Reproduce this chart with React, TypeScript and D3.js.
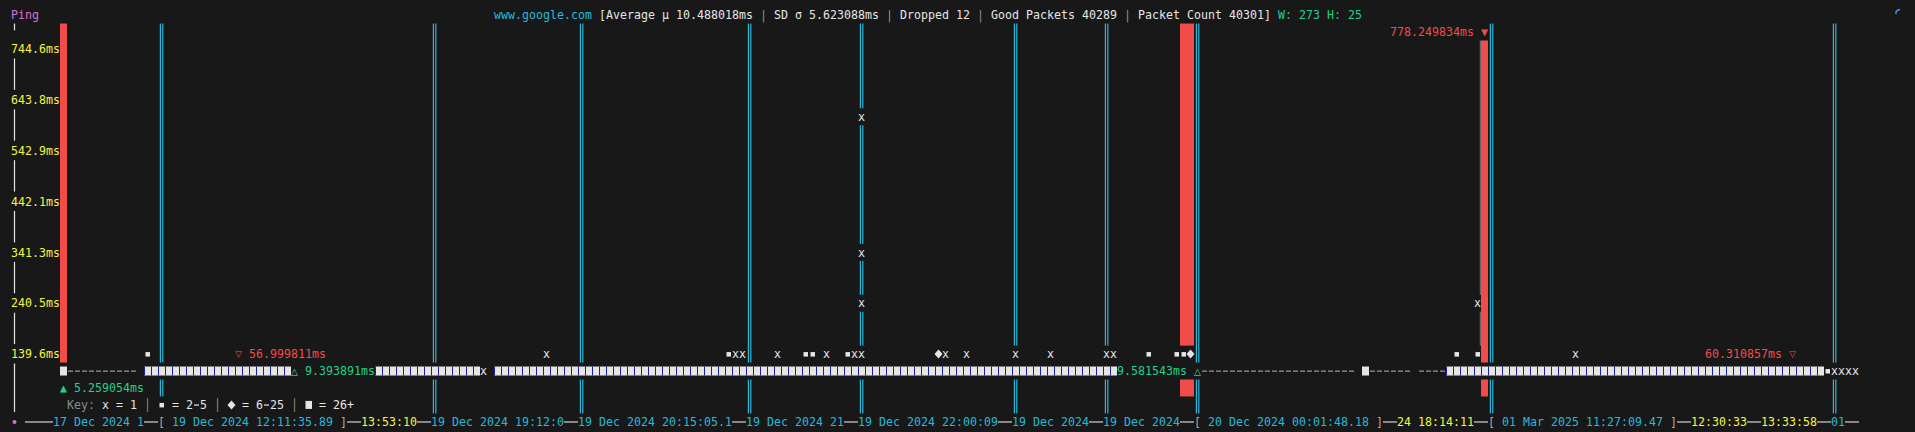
import React from 'react';
import * as d3 from 'd3';

// terminal grid
const COLS = 273;
const ROWS = 25;
const CW = 7;
const RH = 16.95;
const X0 = 4;
const Y0 = 6.6;

const BG = '#181818';
const WHITE = '#e5e5e5';
const CYAN = '#29b8db';
const RED = '#f14c4c';
const GREEN = '#23d18b';
const YELLOW = '#f5f543';
const MAGENTA = '#d670d6';
const GREY = '#8c8c8c';
const SEP = '#9a8f7c';

// y axis
const yTickValues = [744.6, 643.8, 542.9, 442.1, 341.3, 240.5, 139.6];
const yTickLabels = ['744.6ms', '643.8ms', '542.9ms', '442.1ms', '341.3ms', '240.5ms', '139.6ms'];

// columns where the time axis jumps (gaps in the capture)
const breakCols = [22, 61, 82, 106, 122, 144, 157, 170, 212, 261];
// dropped packets
const dropCols = [8, 168, 169, 211];

// low band: runs of 26+ packets per column
const denseRuns: [number, number][] = [[20, 40], [53, 67], [70, 158], [206, 259]];
// low band: no data (dashed)
const gapRuns: [number, number][] = [[9, 18], [171, 192], [195, 200], [202, 205]];
const bigCells = [8, 194];
const lowSingles = [
  { col: 68, sym: 'x' },
  { col: 260, sym: '▪' },
  { col: 261, sym: 'x' },
  { col: 262, sym: 'x' },
  { col: 263, sym: 'x' },
  { col: 264, sym: 'x' },
];

// pings above the low band: column, latency (ms), bucket symbol
const spikes = [
  { col: 20, ms: 141, sym: '▪' },
  { col: 77, ms: 138, sym: 'x' },
  { col: 103, ms: 135, sym: '▪' },
  { col: 104, ms: 142, sym: 'x' },
  { col: 105, ms: 139, sym: 'x' },
  { col: 110, ms: 137, sym: 'x' },
  { col: 114, ms: 140, sym: '▪' },
  { col: 115, ms: 136, sym: '▪' },
  { col: 117, ms: 143, sym: 'x' },
  { col: 120, ms: 138, sym: '▪' },
  { col: 121, ms: 141, sym: 'x' },
  { col: 122, ms: 139, sym: 'x' },
  { col: 122, ms: 240.1, sym: 'x' },
  { col: 122, ms: 341.6, sym: 'x' },
  { col: 122, ms: 610.2, sym: 'x' },
  { col: 133, ms: 140, sym: '◆' },
  { col: 134, ms: 137, sym: 'x' },
  { col: 137, ms: 142, sym: 'x' },
  { col: 144, ms: 138, sym: 'x' },
  { col: 149, ms: 140, sym: 'x' },
  { col: 157, ms: 136, sym: 'x' },
  { col: 158, ms: 139, sym: 'x' },
  { col: 163, ms: 141, sym: '▪' },
  { col: 167, ms: 138, sym: '▪' },
  { col: 168, ms: 140, sym: '▪' },
  { col: 169, ms: 142, sym: '◆' },
  { col: 207, ms: 139, sym: '▪' },
  { col: 210, ms: 137, sym: '▪' },
  { col: 210, ms: 243.0, sym: 'x' },
  { col: 224, ms: 141, sym: 'x' },
];

// min / max markers
const annotations = [
  { row: 1, col: 198, text: '778.249834ms ', tail: '▼', color: RED, tailColor: RED },
  { row: 20, col: 33, head: '▽', text: ' 56.999811ms', color: RED, headColor: '#c83232' },
  { row: 20, col: 243, text: '60.310857ms ', tail: '▽', color: RED, tailColor: '#c83232' },
  { row: 21, col: 41, head: '△', text: ' 9.393891ms', color: GREEN, headColor: GREEN },
  { row: 21, col: 159, text: '9.581543ms ', tail: '△', color: GREEN, tailColor: GREEN },
  { row: 22, col: 8, head: '▲', text: ' 5.259054ms', color: GREEN, headColor: GREEN },
];

// title
const titleParts: [string, string][] = [
  ['www.google.com', CYAN],
  [' [Average μ 10.488018ms ', WHITE],
  ['|', SEP],
  [' SD σ 5.623088ms ', WHITE],
  ['|', SEP],
  [' Dropped 12 ', WHITE],
  ['|', SEP],
  [' Good Packets 40289 ', WHITE],
  ['|', SEP],
  [' Packet Count 40301]', WHITE],
  [' W: 273 H: 25', GREEN],
];

// legend
const keyParts: [string, string][] = [
  ['Key:', GREY],
  [' x = 1 ', WHITE],
  ['│', SEP],
  [' ▪ = 2-5 ', WHITE],
  ['│', SEP],
  [' ◆ = 6-25 ', WHITE],
  ['│', SEP],
  [' ■ = 26+', WHITE],
];

// time axis
const LINE = '#d0d0d0';
const BRK = '#b4ab98';
const axisParts: [string, string][] = [
  ['•', MAGENTA], [' ────', LINE],
  ['17 Dec 2024 1', CYAN], ['──', LINE],
  ['[', BRK], [' 19 Dec 2024 12:11:35.89 ', CYAN], [']', BRK], ['──', LINE],
  ['13:53:10', YELLOW], ['──', LINE],
  ['19 Dec 2024 19:12:0', CYAN], ['──', LINE],
  ['19 Dec 2024 20:15:05.1', CYAN], ['──', LINE],
  ['19 Dec 2024 21', CYAN], ['──', LINE],
  ['19 Dec 2024 22:00:09', CYAN], ['──', LINE],
  ['19 Dec 2024', CYAN], ['──', LINE],
  ['19 Dec 2024', CYAN], ['──', LINE],
  ['[', BRK], [' 20 Dec 2024 00:01:48.18 ', CYAN], [']', BRK], ['──', LINE],
  ['24 18:14:11', YELLOW], ['──', LINE],
  ['[', BRK], [' 01 Mar 2025 11:27:09.47 ', CYAN], [']', BRK], ['──', LINE],
  ['12:30:33', YELLOW], ['──', LINE],
  ['13:33:58', YELLOW], ['──', LINE],
  ['01', CYAN], ['──', LINE],
];

type Kind = 'ch' | 'dense' | 'big' | 'drop' | 'brk' | 'thin' | 'axis';
type Cell = { t: Kind; ch?: string; fill?: string };
type Placed = { r: number; c: number; cell: Cell };

const x = d3.scaleLinear().domain([0, COLS]).range([X0, X0 + COLS * CW]);
const y = d3.scaleLinear().domain([0, ROWS]).range([Y0, Y0 + ROWS * RH]);
const pingRow = d3.scaleLinear().domain([139.6, 744.6]).range([20, 2]);

function buildGrid() {
  const grid = new Map<number, Placed>();
  const put = (r: number, c: number, cell: Cell) => {
    const k = r * 1000 + c;
    if (!grid.has(k)) grid.set(k, { r, c, cell });
  };
  const write = (r: number, c: number, parts: [string, string][]) => {
    let col = c;
    parts.forEach(([s, fill]) => {
      Array.from(s).forEach((ch) => {
        if (ch !== ' ') put(r, col, { t: 'ch', ch, fill });
        col += 1;
      });
    });
  };

  write(0, 1, [['Ping', MAGENTA]]);
  write(0, 70, titleParts);
  write(24, 1, axisParts);
  write(23, 9, keyParts);

  annotations.forEach((a) => {
    const parts: [string, string][] = [];
    if (a.head) parts.push([a.head, a.headColor!]);
    parts.push([a.text, a.color]);
    if (a.tail) parts.push([a.tail, a.tailColor!]);
    write(a.row, a.col, parts);
  });

  spikes.forEach((s) => put(Math.round(pingRow(s.ms)), s.col, { t: 'ch', ch: s.sym, fill: WHITE }));
  lowSingles.forEach((s) => put(21, s.col, { t: 'ch', ch: s.sym, fill: WHITE }));
  bigCells.forEach((c) => put(21, c, { t: 'big' }));
  denseRuns.forEach(([a, b]) => d3.range(a, b + 1).forEach((c) => put(21, c, { t: 'dense' })));
  gapRuns.forEach(([a, b]) => d3.range(a, b + 1).forEach((c) => put(21, c, { t: 'ch', ch: '-', fill: '#9a9a9a' })));

  yTickValues.forEach((v, i) => write(Math.round(pingRow(v)), 1, [[yTickLabels[i], YELLOW]]));

  dropCols.forEach((c) => {
    d3.range(1, 21).forEach((r) => put(r, c, { t: 'drop' }));
    put(22, c, { t: 'drop' });
  });
  d3.range(2, 20).forEach((r) => put(r, 210, { t: 'thin' }));
  breakCols.forEach((c) => d3.range(1, 24).forEach((r) => put(r, c, { t: 'brk' })));
  d3.range(1, 24).forEach((r) => put(r, 1, { t: 'axis' }));

  return Array.from(grid.values());
}

// merge vertically adjacent cells of one kind into a single run
function verticalRuns(cells: Placed[], kind: Kind) {
  const byCol = d3.group(cells.filter((p) => p.cell.t === kind), (p) => p.c);
  const runs: { c: number; r0: number; r1: number }[] = [];
  byCol.forEach((list, c) => {
    const rows = list.map((p) => p.r).sort((a, b) => a - b);
    let start = rows[0];
    let prev = rows[0];
    rows.slice(1).forEach((r) => {
      if (r !== prev + 1) {
        runs.push({ c, r0: start, r1: prev });
        start = r;
      }
      prev = r;
    });
    runs.push({ c, r0: start, r1: prev });
  });
  return runs;
}

const FONT = '"DejaVu Sans Mono", "Liberation Mono", monospace';
const FS = 11.6;

function glyph(ch: string, cx: number, cy: number, fill: string, key: string) {
  if (ch === '▪') {
    return <rect key={key} x={cx - 2} y={cy - 2} width={4.5} height={4.5} fill={fill} />;
  }
  if (ch === '◆') {
    return <path key={key} d={`M${cx},${cy - 4.5}L${cx + 4},${cy}L${cx},${cy + 4.5}L${cx - 4},${cy}Z`} fill={fill} />;
  }
  if (ch === '■') {
    return <rect key={key} x={cx - 3} y={cy - 4} width={6.5} height={8} fill={fill} />;
  }
  if (ch === '─') {
    return <rect key={key} x={cx - CW / 2} y={cy - 0.5} width={CW} height={1.2} fill={fill} />;
  }
  if (ch === '•') {
    return <circle key={key} cx={cx} cy={cy} r={2} fill={fill} />;
  }
  if (ch === '-') {
    return <rect key={key} x={cx - 2.5} y={cy - 0.5} width={5} height={1.2} fill={fill} />;
  }
  return (
    <text key={key} x={cx} y={cy + FS * 0.36} textAnchor="middle" fill={fill} fontFamily={FONT} fontSize={FS}>
      {ch}
    </text>
  );
}

export default function App() {
  const cells = buildGrid();
  const W = 1915;
  const H = 432;

  const drops = verticalRuns(cells, 'drop');
  const breaks = verticalRuns(cells, 'brk');
  const thins = verticalRuns(cells, 'thin');
  const axisRuns = verticalRuns(cells, 'axis');

  return (
    <svg width={W} height={H} style={{ position: 'absolute', left: 0, top: 0 }}>
      <rect width={W} height={H} fill={BG} />
      {drops.map((d, i) => (
        <rect key={`d${i}`} x={x(d.c)} y={y(d.r0)} width={CW} height={y(d.r1 + 1) - y(d.r0)} fill={RED} />
      ))}
      {breaks.map((d, i) => (
        <g key={`b${i}`} fill={CYAN}>
          <rect x={x(d.c) + 1.8} y={y(d.r0)} width={1.2} height={y(d.r1 + 1) - y(d.r0)} />
          <rect x={x(d.c) + 4.2} y={y(d.r0)} width={1.2} height={y(d.r1 + 1) - y(d.r0)} />
        </g>
      ))}
      {thins.map((d, i) => (
        <rect key={`t${i}`} x={x(d.c) + CW - 1.2} y={y(d.r0)} width={1} height={y(d.r1 + 1) - y(d.r0)} fill="#7a7a7a" />
      ))}
      {axisRuns.map((d, i) => {
        const top = d.r0 === 1 ? y(1) : y(d.r0) + 1;
        const bottom = d.r0 === 1 && d.r1 === 1 ? y(1) + RH * 0.4 : y(d.r1 + 1) - 1.5;
        return <rect key={`a${i}`} x={x(1) + CW / 2 - 0.6} y={top} width={1.2} height={bottom - top} fill={WHITE} />;
      })}
      {cells.map(({ r, c, cell }) => {
        const x0 = x(c);
        const cx = x0 + CW / 2;
        const cy = y(r) + RH / 2;
        const k = `${r}-${c}`;
        if (cell.t === 'ch') return glyph(cell.ch!, cx, cy, cell.fill!, k);
        if (cell.t === 'dense') {
          return (
            <g key={k}>
              <rect x={x0} y={cy - 4.5} width={CW} height={9} fill={WHITE} />
              <rect x={x0} y={cy - 4.5} width={1} height={9} fill="#1c1ca0" />
            </g>
          );
        }
        if (cell.t === 'big') return <rect key={k} x={x0} y={cy - 4.5} width={CW} height={9} fill={WHITE} />;
        return null;
      })}
      <path
        d={`M${x(270) + 2},${y(0) + 7.5} L${x(270) + 2},${y(0) + 5.5} Q${x(270) + 3},${y(0) + 3} ${x(270) + 6},${y(0) + 3}`}
        stroke="#2f8fe0"
        strokeWidth={1.6}
        fill="none"
      />
    </svg>
  );
}
